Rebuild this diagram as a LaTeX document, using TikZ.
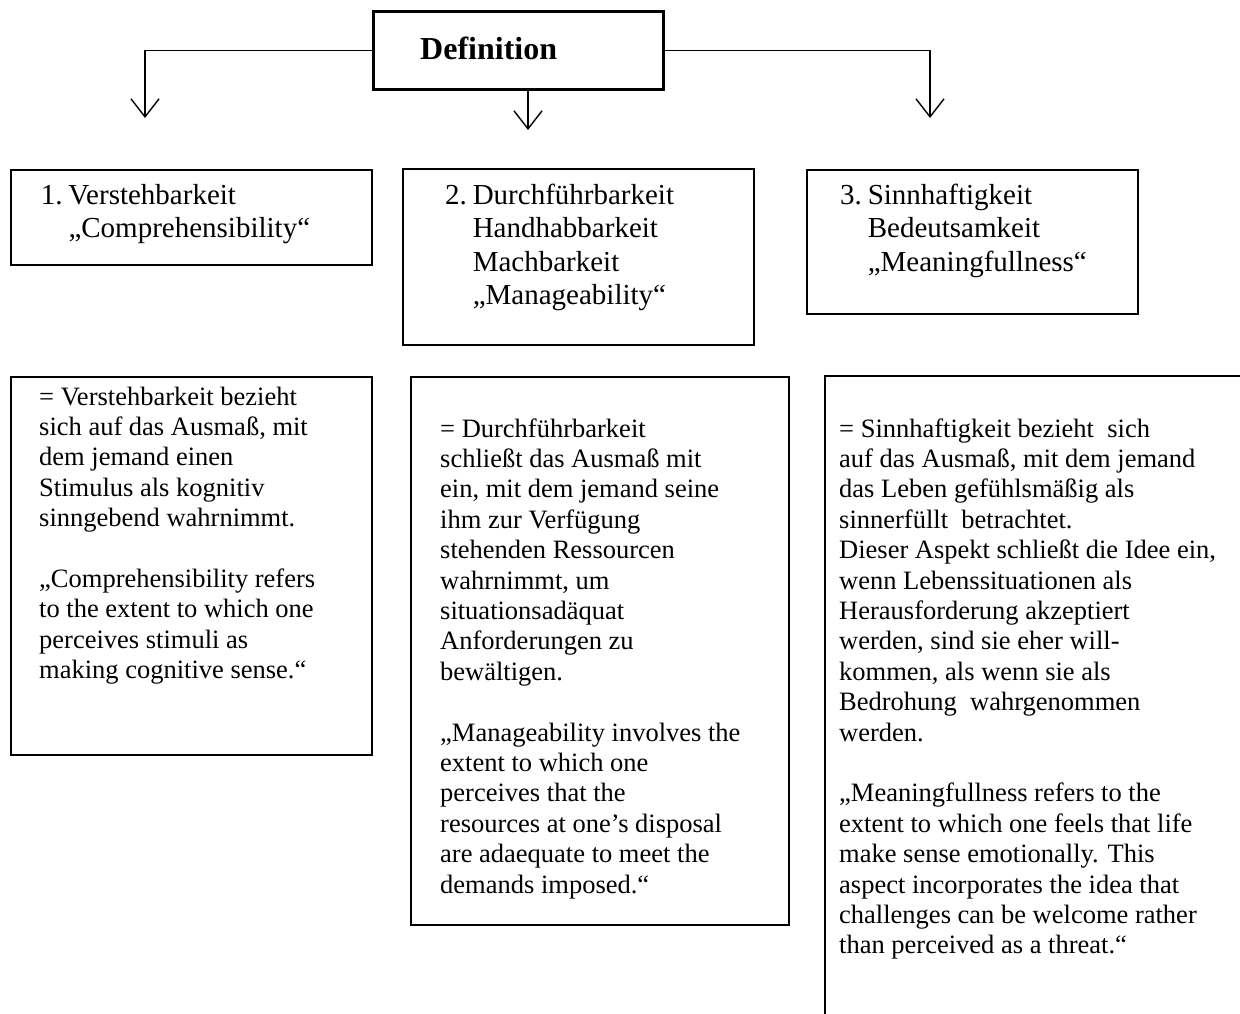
\documentclass[tikz,border=0pt]{standalone}
\usepackage{fontspec}
\setmainfont{Liberation Serif}
\usetikzlibrary{arrows.meta}
\begin{document}
\begin{tikzpicture}[x=1pt,y=-1pt,
  frame/.style={draw, line width=1.8pt, inner sep=0pt, anchor=north west},
  hdr/.style={anchor=north west, inner sep=0pt, align=left, font=\fontsize{29}{33.5}\selectfont},
  body/.style={anchor=north west, inner sep=0pt, align=left, font=\fontsize{26.5}{30.4}\selectfont},
  conn/.style={line width=1.4pt, -{Straight Barb[length=18pt,width=28pt,line width=1.4pt]}},
]
\useasboundingbox (0,0) rectangle (1240,1014);

% top definition box
\node[frame, line width=2.6pt, minimum width=290pt, minimum height=78pt] (def) at (372,10) {};
\node[anchor=base west, inner sep=0pt, font=\bfseries\fontsize{32}{38}\selectfont] (deft) at (420,60) {Definition};

\coordinate (t1) at (145,118);
\coordinate (t2) at (528,130);
\coordinate (t3) at (930,118);
\draw[conn] (def.west) -| (t1);
\draw[conn] (def.east) -| (t3);
\draw[conn] (def.south -| t2) -- (t2);

% header boxes
\node[frame, minimum width=361pt, minimum height=95pt] (b1) at (10,169) {};
\node[frame, minimum width=351pt, minimum height=176pt] (b2) at (402,168) {};
\node[frame, minimum width=331pt, minimum height=144pt] (b3) at (806,169) {};

\node[hdr] (h1) at (40.7,180.5) {\strut\makebox[27.6pt][l]{1.}Verstehbarkeit\\
  \hspace*{27.6pt}„Comprehensibility“};
\node[hdr] (h2) at (445,180.5) {\strut\makebox[27.6pt][l]{2.}Durchführbarkeit\\
  \hspace*{27.6pt}Handhabbarkeit\\
  \hspace*{27.6pt}Machbarkeit\\
  \hspace*{27.6pt}„Manageability“};
\node[hdr] (h3) at (840,180.5) {\strut\makebox[27.6pt][l]{3.}Sinnhaftigkeit\\
  \hspace*{27.6pt}Bedeutsamkeit\\
  \hspace*{27.6pt}„Meaningfullness“};

% detail boxes
\node[frame, minimum width=361pt, minimum height=378pt] (d1) at (10,376) {};
\node[frame, minimum width=378pt, minimum height=548pt] (d2) at (410,376) {};
\coordinate (c6a) at (1240,376);
\coordinate (c6b) at (825,376);
\coordinate (c6c) at (825,1014);
\draw[line width=1.8pt] (c6a) -- (c6b) -- (c6c);

\node[body] (x1) at (39,383.7) {\strut= Verstehbarkeit bezieht\\
sich auf das Ausmaß, mit\\
dem jemand einen\\
Stimulus als kognitiv\\
sinngebend wahrnimmt.\\
\\
„Comprehensibility refers\\
to the extent to which one\\
perceives stimuli as\\
making cognitive sense.“};

\node[body] (x2) at (440,415.7) {\strut= Durchführbarkeit\\
schließt das Ausmaß mit\\
ein, mit dem jemand seine\\
ihm zur Verfügung\\
stehenden Ressourcen\\
wahrnimmt, um\\
situationsadäquat\\
Anforderungen zu\\
bewältigen.\\
\\
„Manageability involves the\\
extent to which one\\
perceives that the\\
resources at one’s disposal\\
are adaequate to meet the\\
demands imposed.“};

\node[body] (x3) at (839,415.7) {\strut= Sinnhaftigkeit bezieht\ \ sich\\
auf das Ausmaß, mit dem jemand\\
das Leben gefühlsmäßig als\\
sinnerfüllt\ \ betrachtet.\\
Dieser Aspekt schließt die Idee ein,\\
wenn Lebenssituationen als\\
Herausforderung akzeptiert\\
werden, sind sie eher will-\\
kommen, als wenn sie als\\
Bedrohung\ \ wahrgenommen\\
werden.\\
\\
„Meaningfullness refers to the\\
extent to which one feels that life\\
make sense emotionally. This\\
aspect incorporates the idea that\\
challenges can be welcome rather\\
than perceived as a threat.“};
\end{tikzpicture}
\end{document}
